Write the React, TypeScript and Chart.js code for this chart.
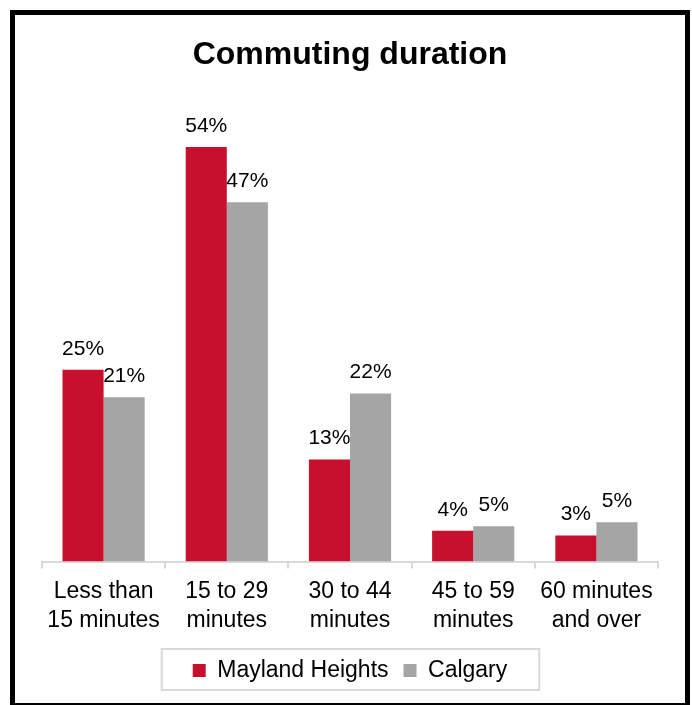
import React, { useEffect, useRef } from "react";
import { Chart, registerables } from "chart.js";

Chart.register(...registerables);

const categories: string[][] = [
  ["Less than", "15 minutes"],
  ["15 to 29", "minutes"],
  ["30 to 44", "minutes"],
  ["45 to 59", "minutes"],
  ["60 minutes", "and over"],
];
const maylandHeights: number[] = [25.0, 54.0, 13.3, 4.0, 3.4];
const calgary: number[] = [21.4, 46.8, 21.9, 4.6, 5.1];
const seriesNames: string[] = ["Mayland Heights", "Calgary"];
const titleText = "Commuting duration";

const RED = "#C8102E";
const GRAY = "#A5A5A5";
const FONT = "'Liberation Sans', Arial, sans-serif";

const dataLabelPlugin = {
  id: "dataLabels",
  afterDatasetsDraw(chart: any) {
    const ctx = chart.ctx;
    ctx.save();
    ctx.font = `21px ${FONT}`;
    ctx.fillStyle = "#000";
    ctx.textAlign = "center";
    ctx.textBaseline = "alphabetic";
    chart.data.datasets.forEach((ds: any, i: number) => {
      const meta = chart.getDatasetMeta(i);
      meta.data.forEach((el: any, j: number) => {
        const v = ds.data[j] as number;
        ctx.fillText(`${Math.round(v)}%`, el.x, el.y - 15);
      });
    });
    ctx.restore();
  },
};

const legendBoxPlugin = {
  id: "legendBox",
  afterDraw(chart: any) {
    const legend = chart.legend;
    if (!legend || !legend.legendHitBoxes || !legend.legendHitBoxes.length) return;
    const boxes = legend.legendHitBoxes;
    const left = Math.min(...boxes.map((b: any) => b.left));
    const right = Math.max(...boxes.map((b: any) => b.left + b.width));
    const top = Math.min(...boxes.map((b: any) => b.top));
    const h = boxes[0].height;
    const cy = top + h / 2;
    const ctx = chart.ctx;
    ctx.save();
    ctx.strokeStyle = "#D9D9D9";
    ctx.lineWidth = 2;
    ctx.strokeRect(left - 31, cy - 21.5, right - left + 63, 41);
    ctx.restore();
  },
};

export default function App() {
  const canvasRef = useRef<HTMLCanvasElement | null>(null);

  useEffect(() => {
    if (!canvasRef.current) return;
    const chart = new Chart(canvasRef.current, {
      type: "bar",
      data: {
        labels: categories,
        datasets: [
          {
            label: seriesNames[0],
            data: maylandHeights,
            backgroundColor: RED,
            borderWidth: 0,
            categoryPercentage: 0.667,
            barPercentage: 1.0,
          },
          {
            label: seriesNames[1],
            data: calgary,
            backgroundColor: GRAY,
            borderWidth: 0,
            categoryPercentage: 0.667,
            barPercentage: 1.0,
          },
        ],
      },
      options: {
        animation: false,
        responsive: false,
        maintainAspectRatio: false,
        layout: { padding: { left: 27, right: 27, top: 0, bottom: 11 } },
        plugins: {
          title: {
            display: true,
            text: titleText,
            color: "#000",
            font: { family: FONT, size: 32, weight: "bold" },
            padding: { top: 21, bottom: 26.6 },
          },
          legend: {
            display: true,
            position: "bottom",
            labels: {
              color: "#000",
              font: { family: FONT, size: 23 },
              boxWidth: 13,
              boxHeight: 13,
              padding: 15,
            },
          },
          tooltip: { enabled: false },
        },
        scales: {
          x: {
            grid: {
              display: true,
              drawOnChartArea: false,
              drawTicks: true,
              tickLength: 7,
              color: "#D9D9D9",
              lineWidth: 2,
              offset: true,
            },
            border: { display: true, color: "#D9D9D9", width: 2 },
            ticks: {
              color: "#000",
              font: { family: FONT, size: 23, lineHeight: 1.25 },
              maxRotation: 0,
              autoSkip: false,
              padding: 9,
            },
          },
          y: {
            display: false,
            min: 0,
            max: 60,
          },
        },
      },
      plugins: [dataLabelPlugin, legendBoxPlugin],
    });
    return () => chart.destroy();
  }, []);

  return (
    <div
      style={{
        position: "fixed",
        left: 10,
        top: 10,
        width: 680,
        height: 698,
        boxSizing: "border-box",
        border: "5px solid #000",
        background: "#fff",
      }}
    >
      <canvas ref={canvasRef} width={670} height={688} style={{ display: "block" }} />
    </div>
  );
}
